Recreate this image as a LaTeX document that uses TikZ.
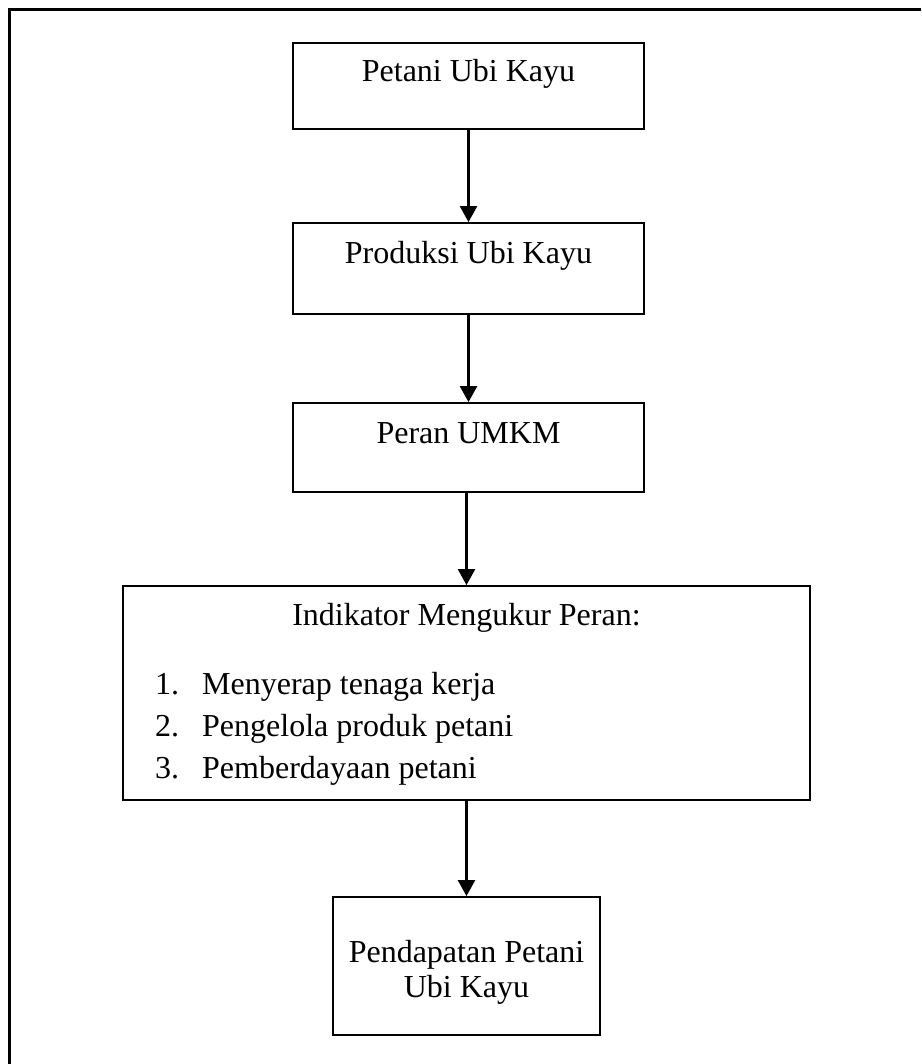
\documentclass[tikz,border=0pt]{standalone}
\usepackage{fontspec}
\setmainfont{Liberation Serif}
\usetikzlibrary{arrows.meta}
\begin{document}
\begin{tikzpicture}[x=1pt,y=-1pt,
  box/.style={draw=black, line width=1.8pt, rectangle, inner sep=0pt},
  txt/.style={font=\fontsize{32}{38}\selectfont, inner sep=0pt, anchor=base},
  itm/.style={font=\fontsize{32}{38}\selectfont, inner sep=0pt, anchor=base west},
  arr/.style={line width=2.4pt, -{Triangle[width=17pt,length=16pt]}}]
\useasboundingbox (0,0) rectangle (921,1064);
% outer frame (left and top edges only)
\coordinate (fl) at (9,1064);
\coordinate (fc) at (9,10);
\coordinate (fr) at (921,10);
\draw[line width=3pt] (fl) -- (fc) -- (fr);
% boxes
\node[box, minimum width=351pt, minimum height=86pt] (b1) at (468.5,86) {};
\node[box, minimum width=351pt, minimum height=91pt] (b2) at (468.5,268.5) {};
\node[box, minimum width=351pt, minimum height=89pt] (b3) at (468.5,447.5) {};
\node[box, minimum width=687pt, minimum height=214pt] (b4) at (466.5,693) {};
\node[box, minimum width=267pt, minimum height=138pt] (b5) at (466.5,966) {};
% texts
\node[txt] (t1) at (468.5,82) {Petani Ubi Kayu};
\node[txt] (t2) at (468.5,264) {Produksi Ubi Kayu};
\node[txt] (t3) at (468.5,443) {Peran UMKM};
\node[txt] (t4) at (466.5,625) {Indikator Mengukur Peran:};
\node[itm] (n1) at (155,694) {1.};
\node[itm] (i1) at (202,694) {Menyerap tenaga kerja};
\node[itm] (n2) at (155,736) {2.};
\node[itm] (i2) at (202,736) {Pengelola produk petani};
\node[itm] (n3) at (155,778) {3.};
\node[itm] (i3) at (202,778) {Pemberdayaan petani};
\node[txt] (t5a) at (466.5,962) {Pendapatan Petani};
\node[txt] (t5b) at (466.5,997) {Ubi Kayu};
% arrows
\draw[arr] (b1.south) -- (b2.north);
\draw[arr] (b2.south) -- (b3.north);
\draw[arr] ([xshift=-2pt]b3.south) -- (b4.north);
\draw[arr] (b4.south) -- (b5.north);
\end{tikzpicture}
\end{document}
